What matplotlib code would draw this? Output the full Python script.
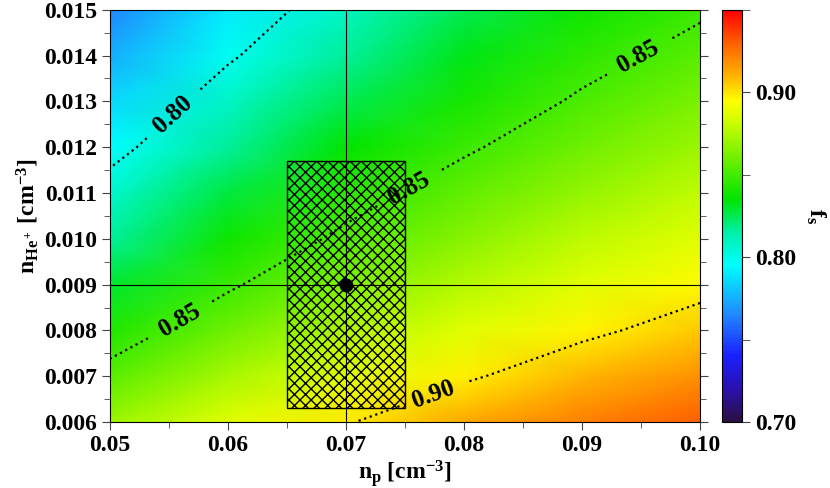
import numpy as np
import matplotlib
matplotlib.use("Agg")
import matplotlib.pyplot as plt
from matplotlib.colors import LinearSegmentedColormap
from matplotlib.ticker import MultipleLocator

plt.rcParams['font.family'] = ['Liberation Serif', 'DejaVu Serif']
plt.rcParams['font.weight'] = 'bold'
plt.rcParams['axes.labelweight'] = 'bold'
plt.rcParams['mathtext.fontset'] = 'custom'
plt.rcParams['mathtext.rm'] = 'Liberation Serif:bold'
plt.rcParams['mathtext.bf'] = 'Liberation Serif:bold'
plt.rcParams['mathtext.it'] = 'Liberation Serif:bold'
plt.rcParams['hatch.linewidth'] = 1.0

# grid of f_s values
n_p = [0.05, 0.06, 0.07, 0.08, 0.09, 0.10]
n_he = [0.006, 0.007, 0.008, 0.009, 0.010, 0.011, 0.012, 0.013, 0.014, 0.015]
# rows: n_he, columns: n_p
f_s = np.array([
    [0.870, 0.887, 0.899, 0.912, 0.922, 0.930],
    [0.855, 0.873, 0.887, 0.898, 0.909, 0.918],
    [0.842, 0.860, 0.875, 0.887, 0.897, 0.906],
    [0.829, 0.848, 0.864, 0.876, 0.887, 0.896],
    [0.817, 0.838, 0.853, 0.866, 0.878, 0.887],
    [0.806, 0.827, 0.844, 0.857, 0.868, 0.879],
    [0.795, 0.817, 0.835, 0.848, 0.860, 0.870],
    [0.785, 0.808, 0.825, 0.840, 0.852, 0.863],
    [0.775, 0.798, 0.817, 0.832, 0.845, 0.855],
    [0.765, 0.790, 0.809, 0.825, 0.838, 0.848],
])
levels = [0.80, 0.85, 0.90]
label_pos = [(0.0551, 0.0128), (0.0947, 0.0140), (0.0753, 0.0111),
             (0.0559, 0.0082), (0.0774, 0.0066)]

# best estimate and its uncertainty box
np0, nhe0 = 0.07, 0.009
np_box = (0.065, 0.075)
nhe_box = (0.0063, 0.0117)

cmap = LinearSegmentedColormap.from_list("fs", [
    (0.00, "#2a1040"), (0.08, "#2a10b0"), (0.16, "#1a20ff"),
    (0.26, "#2088ff"), (0.38, "#00ffff"), (0.46, "#00f0a8"),
    (0.54, "#00e400"), (0.64, "#70f000"), (0.74, "#d8ff00"),
    (0.78, "#ffff00"), (0.84, "#ffb400"), (0.92, "#ff6000"),
    (1.00, "#ff0000")])

fig = plt.figure(figsize=(8.3, 4.88), dpi=100)
ax = fig.add_axes([0.1325, 0.135, 0.711, 0.845])
cax = fig.add_axes([0.870, 0.135, 0.024, 0.845])

X, Y = np.meshgrid(n_p, n_he)
mesh = ax.pcolormesh(X, Y, f_s, cmap=cmap, vmin=0.70, vmax=0.95,
                     shading='gouraud')
cs = ax.contour(X, Y, f_s, levels=levels, colors='k', linestyles=':',
                linewidths=1.6)
ax.clabel(cs, fmt='%.2f', manual=label_pos, fontsize=18, inline=True,
          inline_spacing=14)

ax.axvline(np0, color='k', lw=0.8)
ax.axhline(nhe0, color='k', lw=0.8)
ax.add_patch(plt.Rectangle((np_box[0], nhe_box[0]), np_box[1] - np_box[0],
                           nhe_box[1] - nhe_box[0], fill=False,
                           hatch='xxx', edgecolor='k', lw=1.0))
ax.plot([np0], [nhe0], 'o', color='k', ms=9)

ax.set_xlim(0.05, 0.10)
ax.set_ylim(0.006, 0.015)
ax.xaxis.set_major_locator(MultipleLocator(0.01))
ax.xaxis.set_minor_locator(MultipleLocator(0.005))
ax.yaxis.set_major_locator(MultipleLocator(0.001))
ax.yaxis.set_minor_locator(MultipleLocator(0.0005))
ax.xaxis.set_major_formatter(plt.FormatStrFormatter('%.2f'))
ax.yaxis.set_major_formatter(plt.FormatStrFormatter('%.3f'))
ax.tick_params(which='both', direction='out', right=True, labelsize=17,
               color='#444444')
ax.tick_params(which='major', length=6)
ax.tick_params(which='minor', length=4)
ax.set_xlabel(r'n$_\mathregular{p}$ [cm$^\mathregular{-3}$]', fontsize=17,
              labelpad=1)
ax.set_ylabel(r'n$_\mathregular{He^+}$ [cm$^\mathregular{-3}$]', fontsize=17,
              labelpad=2)

cb = fig.colorbar(mesh, cax=cax)
cb.set_ticks([0.70, 0.80, 0.90])
cb.ax.yaxis.set_major_formatter(plt.FormatStrFormatter('%.2f'))
cb.ax.yaxis.set_minor_locator(MultipleLocator(0.05))
cb.ax.tick_params(which='both', direction='out', labelsize=17,
                  color='#444444')
cb.ax.tick_params(which='major', length=6)
cb.ax.tick_params(which='minor', length=6)
cb.outline.set_linewidth(0.8)
cb.set_label(r'f$_\mathregular{s}$', rotation=270, fontsize=17, labelpad=22)

fig.savefig("out.png", dpi=100)
